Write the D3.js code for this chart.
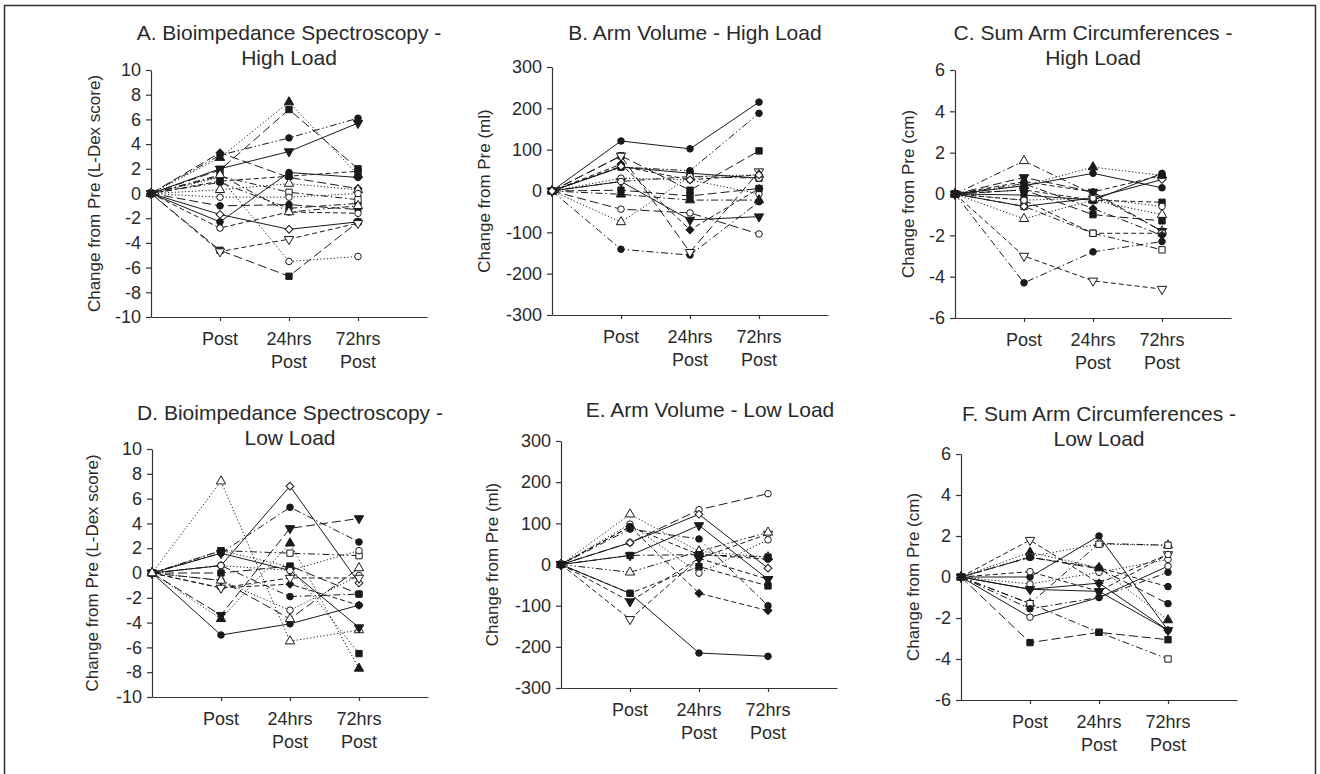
<!DOCTYPE html>
<html><head><meta charset="utf-8">
<script src="https://cdn.jsdelivr.net/npm/d3@7/dist/d3.min.js"></script>
<style>
body{margin:0;background:#fff}
svg text{font-family:"Liberation Sans",Arial,sans-serif;fill:#2a2a2a}
</style>
</head><body>
<svg id="chart" width="1320" height="774"></svg>
<script>
// ---------------- DATA ----------------
const timepoints = ["Pre", "Post", "24hrs Post", "72hrs Post"];
const xTickLabels = [[], ["Post"], ["24hrs", "Post"], ["72hrs", "Post"]];

const panelTitles = [
  ["A. Bioimpedance Spectroscopy -", "High Load"],
  ["B. Arm Volume - High Load"],
  ["C. Sum Arm Circumferences -", "High Load"],
  ["D. Bioimpedance Spectroscopy -", "Low Load"],
  ["E. Arm Volume - Low Load"],
  ["F. Sum Arm Circumferences -", "Low Load"]
];
const yAxisLabels = [
  "Change from Pre (L-Dex score)", "Change from Pre (ml)", "Change from Pre (cm)",
  "Change from Pre (L-Dex score)", "Change from Pre (ml)", "Change from Pre (cm)"
];
const yTicksLdex = [10, 8, 6, 4, 2, 0, -2, -4, -6, -8, -10];
const yTicksMl = [300, 200, 100, 0, -100, -200, -300];
const yTicksCm = [6, 4, 2, 0, -2, -4, -6];

// marker codes: c=circle s=square t=triangle up v=triangle down d=diamond; f=filled o=open
// line codes: s=solid l=long dash d=dash o=dotted dd=dash-dot ddd=dash-dot-dot
const valuesA = [
  [0, 2.9, 7.4, 1.5], [0, 1.9, 6.8, 2.0], [0, 3.1, 4.5, 6.1], [0, 2.0, 3.4, 5.7],
  [0, 3.3, 1.3, 0.4], [0, -2.3, 1.7, 1.3], [0, 0.9, -1.2, -0.8], [0, 1.4, 0.1, -0.5],
  [0, 0.3, 0.8, 0.3], [0, -0.3, -0.3, 0.0], [0, -1.0, -0.9, -1.3], [0, -1.7, -2.9, -2.3],
  [0, -2.8, -1.5, -1.6], [0, -4.6, -6.7, -2.3], [0, -4.7, -3.7, -2.4], [0, 1.3, -5.5, -5.1],
  [0, 1.5, -1.5, -1.0], [0, 1.0, 1.4, 1.8]
];
const markersA = ["tf","sf","cf","vf","df","cf","cf","so","to","co","cf","do","co","sf","vo","co","to","sf"];
const linesA   = ["o","l","ddd","s","l","s","dd","dd","o","o","l","s","d","l","d","o","dd","d"];

const valuesB = [
  [0, 121, 102, 215], [0, 58, 49, 188], [0, 85, 2, 97], [0, -141, -155, -26],
  [0, 85, -148, 47], [0, 65, -94, 6], [0, 23, -70, -62], [0, -44, -53, -104],
  [0, -75, 35, 39], [0, 58, 43, 31], [0, 31, 27, -7], [0, 2, -12, 6],
  [0, -8, -22, -22], [0, 23, 35, 31], [0, 60, 27, 39]
];
const markersB = ["cf","cf","sf","cf","vo","df","vf","co","to","sf","co","sf","tf","co","do"];
const linesB   = ["s","ddd","l","dd","l","d","s","l","o","s","o","l","dd","dd","d"];

const valuesC = [
  [0, 1.6, 0.0, -1.8], [0, 0.8, 0.1, -1.8], [0, 0.4, 1.3, 0.9], [0, 0.4, 1.0, 0.3],
  [0, -4.3, -2.8, -2.3], [0, -3.0, -4.2, -4.6], [0, -0.6, -1.9, -2.7], [0, -0.3, -1.9, -1.9],
  [0, -1.2, -0.3, -1.0], [0, 0.2, -1.0, -1.3], [0, 0.5, -0.7, -2.0], [0, -0.05, -0.3, 1.0],
  [0, -0.6, -0.2, 0.7], [0, 0.2, -0.3, -0.4], [0, -0.3, -0.2, -0.6], [0, 0.6, 0.1, 0.9]
];
const markersC = ["to","vf","tf","cf","cf","vo","so","so","to","sf","df","cf","do","sf","co","cf"];
const linesC   = ["dd","l","o","s","dd","d","dd","d","o","l","dd","s","s","d","o","d"];

const valuesD = [
  [0, 7.4, -5.5, -4.6], [0, 0.6, 7.0, -0.8], [0, 1.6, 5.3, 2.5], [0, -3.4, 3.6, 4.4],
  [0, -3.7, 2.4, -7.7], [0, 1.8, 1.6, 1.4], [0, 1.8, 0.5, -6.5], [0, -5.0, -4.1, -2.6],
  [0, -1.2, -0.9, -2.6], [0, -0.6, -3.0, -0.2], [0, -1.2, -0.4, -0.4], [0, 0.6, -1.9, -1.7],
  [0, 1.6, 0.2, -4.4], [0, 0.0, 0.56, -1.7], [0, 0.6, 0.2, 1.8], [0, -0.6, -3.7, 0.4]
];
const markersD = ["to","do","cf","vf","tf","so","sf","cf","df","co","vo","cf","vf","sf","co","to"];
const linesD   = ["o","s","dd","l","o","dd","o","s","d","o","d","dd","s","l","o","l"];

const valuesE = [
  [0, 53, 133, 172], [0, 53, 122, -9], [0, 22, 95, -36], [0, 86, 62, -100],
  [0, 122, 32, 18], [0, -133, 15, 74], [0, -70, -5, -52], [0, -70, -215, -223],
  [0, 92, -70, -112], [0, 98, -21, 60], [0, -19, 32, 78], [0, 92, 24, 13],
  [0, 22, 24, 18], [0, -90, 15, -36]
];
const markersE = ["co","do","vf","cf","to","vo","sf","cf","df","co","to","cf","sf","vf"];
const linesE   = ["l","s","s","dd","o","d","d","s","d","o","ddd","d","dd","d"];

const valuesF = [
  [0, 1.8, -0.3, 1.1], [0, 1.2, 0.45, -2.1], [0, 0.96, 0.4, -1.3], [0, 0.0, 2.0, -2.6],
  [0, -1.3, 1.64, 1.55], [0, -1.3, -2.7, -4.0], [0, -3.2, -2.7, -3.06], [0, -1.96, -1.0, 0.53],
  [0, -1.55, -1.0, 0.23], [0, -0.6, -0.3, -2.6], [0, -0.34, 0.23, 0.86], [0, 1.0, 1.6, 1.55],
  [0, 0.96, 0.45, -0.47], [0, 0.26, -0.7, 1.1], [0, -0.6, -0.7, -2.6]
];
const markersF = ["vo","tf","cf","cf","to","so","sf","co","cf","df","co","so","cf","co","vf"];
const linesF   = ["d","o","l","s","dd","dd","l","s","dd","s","o","o","d","d","s"];

// ---------------- LAYOUT ----------------
const layout = [
  {x0:151, yTop:70,  yBot:317, ticks:yTicksLdex, tx:289,  ty:[40,65],  lx:94,  vals:valuesA, mk:markersA, ln:linesA},
  {x0:552, yTop:67,  yBot:315, ticks:yTicksMl,   tx:695,  ty:[40],     lx:484, vals:valuesB, mk:markersB, ln:linesB},
  {x0:955, yTop:70,  yBot:318, ticks:yTicksCm,   tx:1093, ty:[40,65],  lx:908, vals:valuesC, mk:markersC, ln:linesC},
  {x0:152, yTop:449, yBot:697, ticks:yTicksLdex, tx:290,  ty:[420,445],lx:92,  vals:valuesD, mk:markersD, ln:linesD},
  {x0:561, yTop:441, yBot:688, ticks:yTicksMl,   tx:710,  ty:[417],    lx:492, vals:valuesE, mk:markersE, ln:linesE},
  {x0:961, yTop:454, yBot:700, ticks:yTicksCm,   tx:1099, ty:[421,446],lx:913, vals:valuesF, mk:markersF, ln:linesF}
];
const STEP = 69;
const dashMap = {s:null, l:"9,4", d:"5,3", o:"1.2,2.2", dd:"7,3,1.5,3", ddd:"7,2.5,1.5,2.5,1.5,2.5"};
const ink = "#1a1a1a";

const svg = d3.select("#chart");
svg.append("rect").attr("x",4.5).attr("y",5.5).attr("width",1311).attr("height",800)
  .attr("fill","none").attr("stroke","#333").attr("stroke-width",1.5);

function symbolFor(code){
  const s = code[0];
  if (s==="c") return {type:d3.symbolCircle, size:34, rot:0};
  if (s==="s") return {type:d3.symbolSquare, size:40, rot:0};
  if (s==="t") return {type:d3.symbolTriangle, size:38, rot:0};
  if (s==="v") return {type:d3.symbolTriangle, size:38, rot:180};
  return {type:d3.symbolSquare, size:30, rot:45};
}

layout.forEach((p, i) => {
  const g = svg.append("g");
  const x = d3.scaleLinear().domain([0, 4]).range([p.x0, p.x0 + 4*STEP]);
  const ext = d3.extent(p.ticks);
  const y = d3.scaleLinear().domain(ext).range([p.yBot, p.yTop]);

  // axes
  const ya = g.append("g").attr("transform", `translate(${p.x0},0)`)
    .call(d3.axisLeft(y).tickValues(p.ticks).tickSize(5).tickSizeOuter(0).tickPadding(5)
      .tickFormat(d => String(d)));
  ya.selectAll("text").attr("font-size", 18).attr("font-family", null).style("fill", "#2a2a2a");
  ya.selectAll("line,path").attr("stroke", "#333").attr("stroke-width", 1.2);

  const xa = g.append("g").attr("transform", `translate(0,${p.yBot})`)
    .call(d3.axisBottom(x).tickValues([1,2,3]).tickSize(4).tickSizeOuter(0).tickFormat(""));
  xa.selectAll("line,path").attr("stroke", "#333").attr("stroke-width", 1.2);
  [1,2,3].forEach(k => {
    xTickLabels[k].forEach((t, j) => {
      g.append("text").attr("x", x(k)).attr("y", p.yBot + 28 + j*23)
        .attr("text-anchor","middle").attr("font-size",18).text(t);
    });
  });

  // title
  panelTitles[i].forEach((t, j) => {
    g.append("text").attr("x", p.tx).attr("y", p.ty[j]).attr("text-anchor","middle")
      .attr("font-size", 21).text(t);
  });
  // y label
  const cy = (p.yTop + p.yBot) / 2;
  g.append("text").attr("transform", `translate(${p.lx},${cy}) rotate(-90)`)
    .attr("text-anchor","middle").attr("dominant-baseline","central")
    .attr("font-size", 17).text(yAxisLabels[i]);

  // lines
  const line = d3.line().x((d, k) => x(k)).y(d => y(d));
  p.vals.forEach((v, r) => {
    g.append("path").attr("d", line(v)).attr("fill","none").attr("stroke", ink)
      .attr("stroke-width", 1).attr("stroke-dasharray", dashMap[p.ln[r]]);
  });
  // markers
  p.vals.forEach((v, r) => {
    const sym = symbolFor(p.mk[r]);
    const filled = p.mk[r][1] === "f";
    const path = d3.symbol().type(sym.type).size(sym.size)();
    v.forEach((d, k) => {
      g.append("path").attr("d", path)
        .attr("transform", `translate(${x(k)},${y(d)}) rotate(${sym.rot})`)
        .attr("fill", filled ? ink : "#fff").attr("stroke", ink).attr("stroke-width", 1);
    });
  });
});
</script>
</body></html>
